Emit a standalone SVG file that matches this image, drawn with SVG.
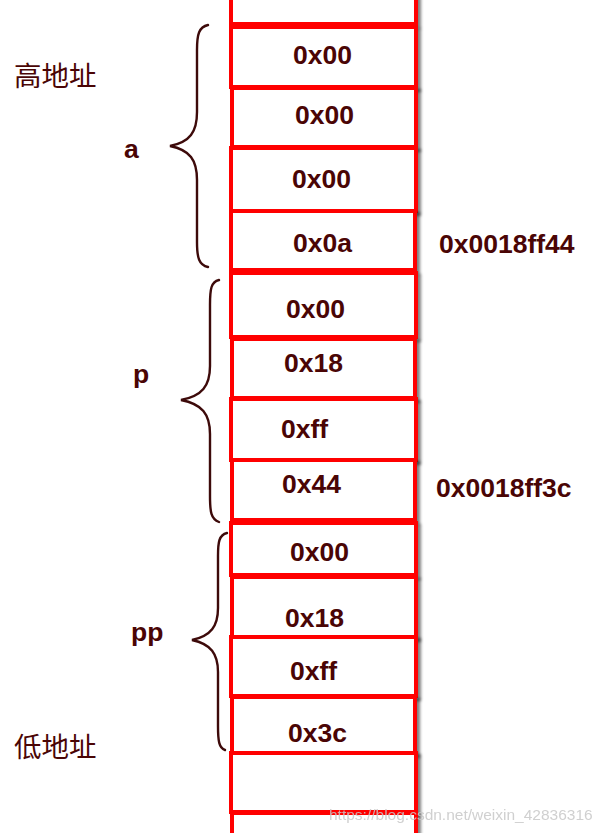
<svg xmlns="http://www.w3.org/2000/svg" width="610" height="833" viewBox="0 0 610 833">
<defs>
<filter id="sh" x="-10%" y="-10%" width="130%" height="140%">
<feDropShadow dx="3" dy="3" stdDeviation="1.8" flood-color="#000" flood-opacity="0.5"/>
</filter>
<style>
.cell{fill:#fff;stroke:#ff0000;stroke-width:4;filter:url(#sh)}
.v{font-family:"Liberation Sans",Arial,sans-serif;font-weight:bold;font-size:26.5px;fill:#4a0505}
.cn{font-family:"Noto Sans CJK SC","Noto Sans CJK JP",sans-serif;font-size:27.5px;fill:#4a0505}
.br{fill:none;stroke:#3d0a0a;stroke-width:2.4;stroke-linecap:round}
.wm{font-family:"Liberation Sans",Arial,sans-serif;font-size:15.5px;fill:#c8c8c8;opacity:0.85}
</style>
</defs>
<rect width="610" height="833" fill="#fff"/>
<g id="cells">
<g id="c0"><rect class="cell" x="231" y="-10" width="185" height="34"/></g>
<g id="c1"><rect class="cell" x="231" y="27" width="185" height="60"/><text class="v" x="293" y="64">0x00</text></g>
<g id="c2"><rect class="cell" x="232" y="88" width="184" height="59"/><text class="v" x="295" y="124">0x00</text></g>
<g id="c3"><rect class="cell" x="231" y="148" width="185" height="63"/><text class="v" x="292" y="188">0x00</text></g>
<g id="c4"><rect class="cell" x="231" y="211" width="184" height="59"/><text class="v" x="293" y="252">0x0a</text></g>
<g id="c5"><rect class="cell" x="231" y="273" width="185" height="64"/><text class="v" x="286" y="318">0x00</text></g>
<g id="c6"><rect class="cell" x="232" y="339" width="183" height="59"/><text class="v" x="284" y="372">0x18</text></g>
<g id="c7"><rect class="cell" x="231" y="399" width="185" height="61"/><text class="v" x="281" y="438">0xff</text></g>
<g id="c8"><rect class="cell" x="232" y="460" width="183" height="60"/><text class="v" x="282" y="493">0x44</text></g>
<g id="c9"><rect class="cell" x="231" y="523" width="185" height="52"/><text class="v" x="290" y="561">0x00</text></g>
<g id="c10"><rect class="cell" x="232" y="577" width="184" height="60"/><text class="v" x="285" y="627">0x18</text></g>
<g id="c11"><rect class="cell" x="231" y="637" width="185" height="59"/><text class="v" x="290" y="680">0xff</text></g>
<g id="c12"><rect class="cell" x="232" y="697" width="183" height="56"/><text class="v" x="288" y="742">0x3c</text></g>
<g id="c13"><rect class="cell" x="231" y="753" width="185" height="59"/></g>
<g id="c14"><rect class="cell" x="232" y="813" width="184" height="40"/></g>
</g>
<g id="braces">
<path class="br" d="M208,25 C199,27 197,34 197,50 L197,112 C197,132 190,142 170,146 C190,150 197,160 197,180 L197,242 C197,258 199,265 208,267"/>
<path class="br" d="M219,280 C211,282 210,289 210,305 L210,366 C210,386 202,396 181,400 C202,404 210,414 210,434 L210,496 C210,512 211,519 219,522"/>
<path class="br" d="M227,533 C219,535 218,542 218,556 L218,608 C218,626 211,636 192,640 C211,644 218,654 218,672 L218,726 C218,741 219,748 225,750"/>
</g>
<g id="labels">
<text class="cn" x="14" y="86">高地址</text>
<text class="cn" x="14" y="757">低地址</text>
<text class="v" x="124" y="158">a</text>
<text class="v" x="133" y="383">p</text>
<text class="v" x="131" y="641">pp</text>
<text class="v" x="439" y="253">0x0018ff44</text>
<text class="v" x="436" y="497">0x0018ff3c</text>
</g>
<text class="wm" x="329" y="820">https://blog.csdn.net/weixin_42836316</text>
</svg>
